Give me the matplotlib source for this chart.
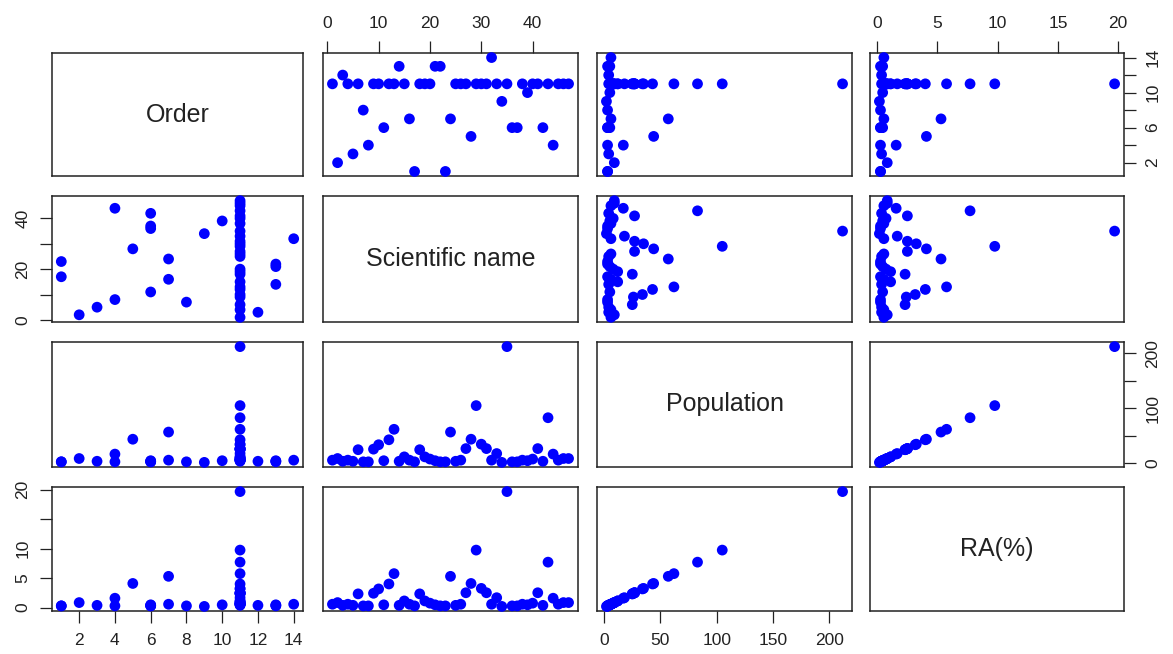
import matplotlib
matplotlib.use('Agg')
import matplotlib.pyplot as plt

plt.rcParams['font.family'] = ['Liberation Sans', 'DejaVu Sans']

# ---- data (one row per species) ----
sci_name = [1, 2, 3, 4, 5, 6, 7, 8, 9, 10, 11, 12, 13, 14, 15, 16, 17, 18, 19, 20,
            21, 22, 23, 24, 25, 26, 27, 28, 29, 30, 31, 32, 33, 34, 35, 36, 37, 38,
            39, 40, 41, 42, 43, 44, 45, 46, 47]
order = [11, 2, 12, 11, 3, 11, 8, 4, 11, 11, 6, 11, 11, 13, 11, 7, 1, 11, 11, 11,
         13, 13, 1, 7, 11, 11, 11, 5, 11, 11, 11, 14, 11, 9, 11, 6, 6, 11,
         10, 11, 11, 6, 11, 4, 11, 11, 11]
population = [6, 9, 4, 6, 4, 25, 3, 3, 26, 34, 5, 43, 62, 4, 12, 6, 3, 25, 12, 8,
              5, 3, 3, 57, 4, 6, 27, 44, 105, 35, 27, 6, 18, 2, 212, 3, 3, 6,
              5, 8, 27, 4, 83, 17, 6, 9, 9]
ra = [0.56, 0.84, 0.37, 0.56, 0.37, 2.32, 0.28, 0.28, 2.42, 3.16, 0.46, 4.00, 5.76,
      0.37, 1.12, 0.56, 0.28, 2.32, 1.12, 0.74, 0.46, 0.28, 0.28, 5.30, 0.37, 0.56,
      2.51, 4.09, 9.76, 3.25, 2.51, 0.56, 1.67, 0.19, 19.70, 0.28, 0.28, 0.56,
      0.46, 0.74, 2.51, 0.37, 7.71, 1.58, 0.56, 0.84, 0.84]

var_names = ['Order', 'Scientific name', 'Population', 'RA(%)']

order_ticks = [2, 4, 6, 8, 10, 12, 14]
sci_ticks = [0, 10, 20, 30, 40]
pop_ticks = [0, 50, 100, 150, 200]
ra_ticks = [0, 5, 10, 15, 20]

order_x_labels = ['2', '4', '6', '8', '10', '12', '14']
order_y_labels = ['2', '', '6', '', '10', '', '14']
sci_x_labels = ['0', '10', '20', '30', '40']
sci_y_labels = ['0', '', '20', '', '40']
pop_x_labels = ['0', '50', '100', '150', '200']
pop_y_labels = ['0', '', '100', '', '200']
ra_x_labels = ['0', '5', '10', '15', '20']
ra_y_labels = ['0', '5', '10', '', '20']

variables = [order, sci_name, population, ra]
ticks = [order_ticks, sci_ticks, pop_ticks, ra_ticks]
xlabels = [order_x_labels, sci_x_labels, pop_x_labels, ra_x_labels]
ylabels = [order_y_labels, sci_y_labels, pop_y_labels, ra_y_labels]

# ---- layout ----
W, H = 1173, 654
fig = plt.figure(figsize=(W / 100, H / 100), dpi=100)
fig.patch.set_facecolor('white')
cols = [(52, 303), (323, 578), (597, 852), (870, 1124)]
rows = [(53, 176), (196, 322), (342, 467), (487, 611)]

TXT = '#222222'
EDGE = '#222222'


def rng(v):
    lo, hi = min(v), max(v)
    r = hi - lo
    return lo - 0.04 * r, hi + 0.04 * r


for i in range(4):
    for j in range(4):
        x0, x1 = cols[j]
        y0, y1 = rows[i]
        ax = fig.add_axes([x0 / W, 1 - y1 / H, (x1 - x0) / W, (y1 - y0) / H])
        for s in ax.spines.values():
            s.set_color(EDGE)
            s.set_linewidth(1.1)
        ax.tick_params(which='both', bottom=False, top=False, left=False, right=False,
                       labelbottom=False, labeltop=False, labelleft=False, labelright=False,
                       direction='out', length=8.5, width=0.9, color=EDGE,
                       labelsize=12.5, labelcolor=TXT, pad=7)
        if i == j:
            ax.set_xticks([])
            ax.set_yticks([])
            ax.text(0.5, 0.5, var_names[i], transform=ax.transAxes, ha='center',
                    va='center', fontsize=18, color=TXT)
            continue
        ax.scatter(variables[j], variables[i], s=60, color='#0000ff',
                   edgecolors='none', zorder=3, clip_on=False)
        ax.set_xlim(*rng(variables[j]))
        ax.set_ylim(*rng(variables[i]))
        ax.set_xticks(ticks[j])
        ax.set_xticklabels(xlabels[j])
        ax.set_yticks(ticks[i])
        ax.set_yticklabels(ylabels[i])
        if i == 0 and j % 2 == 1:
            ax.tick_params(axis='x', top=True, labeltop=True)
        if i == 3 and j % 2 == 0:
            ax.tick_params(axis='x', bottom=True, labelbottom=True)
        if j == 0 and i % 2 == 1:
            ax.tick_params(axis='y', left=True, labelleft=True, labelrotation=90)
        if j == 3 and i % 2 == 0:
            ax.tick_params(axis='y', right=True, labelright=True, labelrotation=90)
        for t in ax.yaxis.get_major_ticks():
            t.label1.set_va('center')
            t.label2.set_va('center')

fig.savefig('out.png', dpi=100, facecolor='white')
